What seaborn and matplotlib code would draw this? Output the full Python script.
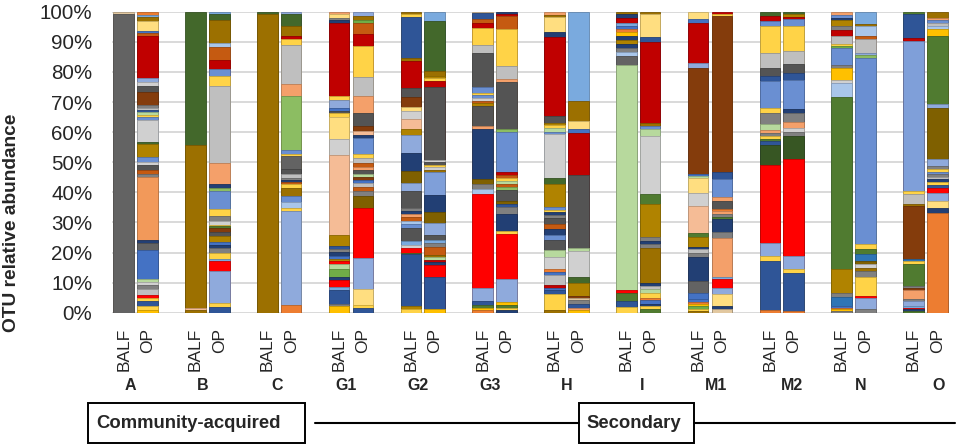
import matplotlib
matplotlib.use("Agg")
import matplotlib.pyplot as plt
import numpy as np
import pandas as pd
import seaborn as sns
from matplotlib.colors import to_rgb
from matplotlib.patches import Rectangle
from matplotlib.lines import Line2D

# ---------------- data ----------------
groups = ["A", "B", "C", "G1", "G2", "G3", "H", "I", "M1", "M2", "N", "O"]
samples = ["BALF", "OP"]
y_ticks = [0, 10, 20, 30, 40, 50, 60, 70, 80, 90, 100]
y_tick_labels = [f"{v}%" for v in y_ticks]
category_labels = ["Community-acquired", "Secondary"]

# OTU colour keys
PAL = {
    "dgray": "#636363", "char": "#545454", "mgray": "#808080", "lgray": "#bfbfbf",
    "vlgray": "#d0d0d0", "tan": "#e2c8a0", "red": "#c00000", "bred": "#ff0000",
    "salmon": "#f4a06a", "lorange": "#f2995a", "peach": "#f5bc96", "orange": "#ed7d31",
    "blue": "#4472c4", "dblue": "#2f5597", "navy": "#223f74", "lblue": "#8faadc",
    "sblue": "#6a8fd2", "pblue": "#7f9fd9", "skyblue": "#7aaade", "iceblue": "#a9c6ea",
    "mblue": "#2e75b6", "olive": "#9c7000", "gold": "#b08300", "dolive": "#7f6000",
    "dgreen": "#43682b", "green": "#507b30", "vdgreen": "#375623", "lgreen": "#8cbd62",
    "mintgreen": "#b7d99d", "gmid": "#70ad47", "yellow": "#ffd347", "amber": "#ffc000",
    "lyellow": "#ffde80", "brown": "#843c0c", "rust": "#c55a11",
}

# stacks, bottom -> top : (OTU colour key, relative abundance %)
A_BALF = [("dgray", 99.3), ("tan", 0.7)]
A_OP = [("amber", 1.0), ("yellow", 1.3), ("dblue", 1.4), ("yellow", 1.0), ("bred", 1.0),
        ("lgray", 2.0), ("mgray", 1.5), ("vlgray", 1.0), ("mintgreen", 1.0), ("blue", 9.2),
        ("dgray", 2.4), ("navy", 1.0), ("lorange", 20.7), ("mgray", 1.0), ("rust", 1.3),
        ("char", 1.5), ("vlgray", 1.0), ("sblue", 1.6), ("gold", 4.4), ("dgreen", 0.8),
        ("vlgray", 7.0), ("sblue", 1.0), ("yellow", 0.8), ("mintgreen", 0.8), ("dblue", 0.7),
        ("lgray", 0.6), ("mgray", 1.0), ("brown", 4.4), ("char", 1.9), ("vlgray", 1.4),
        ("lblue", 1.3), ("red", 13.8), ("rust", 0.8), ("blue", 0.9), ("lyellow", 3.3),
        ("olive", 1.0), ("skyblue", 0.9), ("orange", 1.0)]
B_BALF = [("olive", 0.8), ("peach", 0.9), ("olive", 53.9), ("dgreen", 44.4)]
B_OP = [("dblue", 1.9), ("yellow", 1.4), ("lblue", 10.5), ("bred", 3.3), ("skyblue", 0.6),
        ("yellow", 2.2), ("mgray", 1.5), ("navy", 1.0), ("blue", 1.0), ("gold", 2.0),
        ("char", 1.5), ("brown", 1.2), ("green", 0.6), ("yellow", 0.6), ("vlgray", 1.1),
        ("mgray", 1.7), ("yellow", 2.2), ("sblue", 6.1), ("lgreen", 1.1), ("navy", 1.1),
        ("salmon", 7.2), ("lgray", 25.5), ("yellow", 3.3), ("sblue", 2.5), ("red", 2.7),
        ("rust", 4.4), ("iceblue", 1.4), ("olive", 7.8), ("dgreen", 1.7), ("skyblue", 0.9)]
C_BALF = [("olive", 99.1), ("dgreen", 0.9)]
C_OP = [("orange", 2.4), ("lblue", 31.3), ("yellow", 1.1), ("iceblue", 2.0), ("sblue", 1.9),
        ("olive", 2.8), ("yellow", 1.1), ("rust", 0.8), ("navy", 0.7), ("mgray", 0.7),
        ("lgray", 1.4), ("char", 1.4), ("dgray", 4.4), ("yellow", 0.8), ("sblue", 1.4),
        ("lgreen", 17.7), ("salmon", 4.1), ("lgray", 13.1), ("yellow", 1.7), ("red", 1.1),
        ("olive", 3.3), ("dgreen", 3.9), ("lblue", 0.9)]
G1_BALF = [("amber", 2.2), ("mgray", 0.6), ("dblue", 4.7), ("skyblue", 1.1), ("bred", 2.2),
           ("navy", 1.1), ("gmid", 2.5), ("mintgreen", 1.7), ("bred", 1.0), ("gold", 0.9),
           ("blue", 0.9), ("navy", 1.2), ("mgray", 1.1), ("dblue", 1.0), ("gold", 3.5),
           ("peach", 26.6), ("vlgray", 5.3), ("lyellow", 7.4), ("yellow", 1.2), ("char", 0.7),
           ("blue", 1.2), ("lblue", 2.4), ("yellow", 1.4), ("red", 24.4), ("navy", 0.9),
           ("mgray", 0.8), ("lyellow", 1.2), ("salmon", 0.8)]
G1_OP = [("dblue", 1.7), ("yellow", 0.8), ("lyellow", 5.3), ("lblue", 10.3), ("bred", 16.8),
         ("dolive", 3.9), ("mgray", 1.6), ("rust", 1.4), ("lgray", 1.2), ("blue", 1.0),
         ("brown", 1.2), ("mintgreen", 0.8), ("char", 1.4), ("salmon", 0.8), ("rust", 1.6),
         ("lgray", 1.4), ("yellow", 1.4), ("sblue", 5.5), ("navy", 0.8), ("peach", 1.4),
         ("brown", 1.7), ("char", 4.4), ("salmon", 5.5), ("lgray", 6.3), ("yellow", 10.3),
         ("red", 4.1), ("rust", 3.7), ("gmid", 1.0), ("olive", 1.2), ("lblue", 1.4)]
G2_BALF = [("yellow", 1.1), ("gold", 1.1), ("dblue", 17.2), ("green", 0.5), ("bred", 1.5),
           ("vlgray", 1.2), ("skyblue", 1.2), ("char", 4.4), ("sblue", 1.2), ("iceblue", 1.0),
           ("rust", 1.2), ("salmon", 1.0), ("navy", 1.2), ("mgray", 1.0), ("char", 5.5),
           ("lblue", 2.8), ("dolive", 3.9), ("navy", 5.9), ("lblue", 6.0), ("gold", 2.0),
           ("peach", 3.5), ("vlgray", 2.5), ("lyellow", 1.3), ("brown", 3.3), ("char", 3.1),
           ("red", 8.9), ("olive", 1.1), ("dblue", 13.5), ("yellow", 1.2), ("olive", 0.6)]
G2_OP = [("amber", 1.1), ("dblue", 10.7), ("bred", 4.2), ("navy", 0.8), ("red", 0.8),
         ("mintgreen", 0.9), ("olive", 0.8), ("rust", 2.8), ("mgray", 1.3), ("skyblue", 1.0),
         ("char", 1.6), ("lblue", 3.9), ("dolive", 3.9), ("navy", 5.5), ("pblue", 7.8),
         ("olive", 0.7), ("vlgray", 0.8), ("yellow", 0.7), ("char", 1.1), ("vlgray", 0.6),
         ("char", 24.4), ("red", 2.0), ("yellow", 1.0), ("gold", 0.9), ("olive", 1.7),
         ("dgreen", 16.6), ("skyblue", 3.1)]
G3_BALF = [("orange", 0.9), ("amber", 0.8), ("green", 1.0), ("dblue", 1.2), ("lblue", 4.2),
           ("bred", 31.5), ("iceblue", 1.6), ("mgray", 1.5), ("dolive", 1.7), ("navy", 16.6),
           ("salmon", 1.1), ("char", 6.6), ("gold", 1.0), ("rust", 0.7), ("vlgray", 1.0),
           ("sblue", 0.9), ("yellow", 0.9), ("sblue", 1.9), ("char", 11.4), ("lgray", 2.5),
           ("yellow", 5.8), ("red", 1.7), ("rust", 1.1), ("dblue", 2.0), ("tan", 0.5)]
G3_OP = [("navy", 0.9), ("yellow", 0.8), ("green", 0.9), ("amber", 0.8), ("lblue", 7.8),
         ("bred", 15.0), ("yellow", 1.1), ("navy", 5.5), ("mgray", 2.2), ("dblue", 1.2),
         ("dolive", 1.0), ("char", 3.5), ("lgreen", 1.0), ("rust", 1.1), ("mintgreen", 1.0),
         ("yellow", 1.0), ("rust", 1.0), ("red", 0.8), ("sblue", 13.3), ("lgreen", 1.1),
         ("char", 15.5), ("salmon", 1.3), ("lgray", 4.2), ("yellow", 12.2), ("rust", 4.4),
         ("red", 0.6), ("navy", 0.8)]
H_BALF = [("olive", 0.8), ("yellow", 5.5), ("dblue", 1.4), ("blue", 0.6), ("red", 0.9),
          ("lgray", 3.5), ("blue", 0.9), ("orange", 0.8), ("vlgray", 4.1), ("mintgreen", 2.5),
          ("char", 3.3), ("sblue", 1.7), ("navy", 1.7), ("rust", 1.7), ("char", 2.0),
          ("mgray", 1.2), ("navy", 0.9), ("yellow", 0.8), ("sblue", 0.9), ("gold", 7.5),
          ("dgreen", 2.0), ("vlgray", 14.6), ("sblue", 0.8), ("mintgreen", 1.2), ("yellow", 1.0),
          ("gold", 0.9), ("char", 2.2), ("red", 26.2), ("navy", 1.8), ("lyellow", 4.9),
          ("olive", 0.8), ("salmon", 1.0)]
H_OP = [("amber", 0.9), ("salmon", 0.8), ("dblue", 1.1), ("mgray", 1.4), ("tan", 0.7),
        ("brown", 0.7), ("gold", 4.4), ("dgreen", 1.9), ("vlgray", 8.6), ("mintgreen", 0.9),
        ("char", 24.3), ("red", 14.2), ("blue", 1.1), ("lyellow", 2.8), ("olive", 6.6),
        ("skyblue", 29.7)]
I_BALF = [("yellow", 1.9), ("dblue", 2.0), ("green", 2.8), ("bred", 0.8), ("mintgreen", 75.1),
          ("dgray", 2.8), ("iceblue", 1.4), ("mgray", 1.4), ("navy", 1.3), ("gold", 1.3),
          ("navy", 1.3), ("amber", 1.2), ("orange", 1.0), ("blue", 1.2), ("skyblue", 1.0),
          ("red", 1.7), ("navy", 1.2), ("olive", 0.8)]
I_OP = [("green", 1.1), ("yellow", 1.0), ("navy", 0.9), ("blue", 1.2), ("orange", 0.8),
        ("yellow", 1.7), ("mintgreen", 1.2), ("lgray", 1.0), ("navy", 1.1), ("olive", 11.6),
        ("mgray", 1.1), ("navy", 1.1), ("mgray", 1.3), ("gold", 10.9), ("green", 3.5),
        ("vlgray", 19.2), ("mintgreen", 2.2), ("sblue", 1.1), ("olive", 1.1), ("red", 26.9),
        ("dblue", 1.6), ("lyellow", 7.5), ("olive", 0.9)]
M1_BALF = [("olive", 0.5), ("yellow", 0.6), ("gmid", 1.0), ("amber", 0.7), ("orange", 0.8),
           ("blue", 0.9), ("blue", 1.9), ("dgray", 4.2), ("navy", 7.8), ("mgray", 1.4),
           ("lgray", 1.4), ("navy", 0.8), ("gold", 3.1), ("green", 1.3), ("peach", 9.2),
           ("vlgray", 4.2), ("lyellow", 5.0), ("mintgreen", 0.7), ("blue", 0.6), ("brown", 35.4),
           ("lblue", 1.7), ("red", 13.3), ("blue", 1.1), ("lyellow", 2.5)]
M1_OP = [("tan", 1.1), ("navy", 1.1), ("lyellow", 3.9), ("lblue", 2.2), ("bred", 2.8),
         ("skyblue", 0.8), ("salmon", 13.1), ("mgray", 1.7), ("navy", 4.4), ("green", 0.6),
         ("mgray", 1.1), ("salmon", 0.9), ("orange", 0.8), ("char", 2.8), ("salmon", 1.1),
         ("sblue", 6.1), ("dblue", 2.2), ("brown", 52.0), ("yellow", 0.7), ("red", 0.7)]
M2_BALF = [("orange", 0.8), ("dblue", 16.4), ("yellow", 1.7), ("lblue", 4.4), ("bred", 25.8),
           ("vdgreen", 6.6), ("dblue", 1.3), ("green", 0.9), ("yellow", 0.8), ("mgray", 1.2),
           ("salmon", 1.0), ("mintgreen", 1.7), ("mgray", 3.9), ("yellow", 1.7), ("sblue", 8.9),
           ("dblue", 1.5), ("char", 2.9), ("lgray", 5.0), ("yellow", 8.9), ("sblue", 1.5),
           ("red", 1.8), ("dgreen", 1.4)]
M2_OP = [("orange", 0.6), ("dblue", 12.7), ("yellow", 1.1), ("lblue", 4.4), ("bred", 32.3),
         ("vdgreen", 7.5), ("mgray", 1.4), ("vlgray", 1.4), ("salmon", 1.7), ("mgray", 3.0),
         ("navy", 1.4), ("sblue", 9.6), ("dblue", 2.5), ("char", 2.8), ("lgray", 4.4),
         ("yellow", 8.3), ("sblue", 2.2), ("red", 0.8), ("gold", 1.0), ("dgreen", 0.7)]
N_BALF = [("mgray", 0.5), ("amber", 0.6), ("orange", 0.5), ("blue", 0.6), ("mblue", 3.0),
          ("mgray", 1.4), ("gold", 7.8), ("green", 57.3), ("iceblue", 4.8), ("vlgray", 1.1),
          ("amber", 3.9), ("mgray", 0.8), ("sblue", 5.9), ("gmid", 0.6), ("yellow", 0.5),
          ("lgray", 2.8), ("red", 1.9), ("mgray", 1.6), ("gold", 1.7), ("navy", 0.9),
          ("sblue", 1.0), ("salmon", 1.0)]
N_OP = [("mgray", 1.1), ("lblue", 3.9), ("bred", 0.6), ("yellow", 6.3), ("mgray", 2.0),
        ("olive", 1.1), ("vlgray", 1.1), ("dolive", 1.1), ("mblue", 2.2), ("green", 1.7),
        ("yellow", 1.9), ("sblue", 61.8), ("lgreen", 0.8), ("lblue", 0.9), ("lgray", 4.4),
        ("rust", 1.1), ("iceblue", 3.3), ("olive", 0.8), ("skyblue", 4.0)]
O_BALF = [("green", 0.5), ("navy", 0.6), ("bred", 0.5), ("skyblue", 0.6), ("lblue", 1.7),
          ("mgray", 0.8), ("salmon", 2.8), ("brown", 0.7), ("mgray", 0.7), ("green", 7.4),
          ("yellow", 0.8), ("mblue", 0.6), ("brown", 17.7), ("olive", 0.6), ("lgray", 3.3),
          ("yellow", 1.1), ("pblue", 49.8), ("red", 1.1), ("dblue", 7.8), ("green", 0.9)]
O_OP = [("orange", 33.2), ("navy", 1.7), ("lyellow", 2.2), ("lblue", 2.8), ("bred", 1.7),
        ("dblue", 0.9), ("yellow", 0.9), ("navy", 0.9), ("lgray", 0.9), ("mgray", 0.8),
        ("sblue", 0.9), ("yellow", 0.9), ("mgray", 1.0), ("lblue", 2.2), ("dolive", 17.2),
        ("lblue", 1.1), ("green", 22.7), ("amber", 2.2), ("iceblue", 1.0), ("lgray", 1.0),
        ("sblue", 1.0), ("salmon", 0.9), ("olive", 2.0)]

STACKS = {
    "A": (A_BALF, A_OP), "B": (B_BALF, B_OP), "C": (C_BALF, C_OP),
    "G1": (G1_BALF, G1_OP), "G2": (G2_BALF, G2_OP), "G3": (G3_BALF, G3_OP),
    "H": (H_BALF, H_OP), "I": (I_BALF, I_OP), "M1": (M1_BALF, M1_OP),
    "M2": (M2_BALF, M2_OP), "N": (N_BALF, N_OP), "O": (O_BALF, O_OP),
}

# ---------------- build long table ----------------
slots, tick_text = [], []
rows = []
for gi, g in enumerate(groups):
    for si, s in enumerate(samples):
        slot = f"{g}_{s}"
        slots.append(slot)
        tick_text.append(s)
        stack = STACKS[g][si]
        vals = np.array([v for _, v in stack], dtype=float)
        vals = vals / vals.sum() * 100.0
        tops = np.cumsum(vals)
        for lvl, ((key, _), top) in enumerate(zip(stack, tops)):
            rows.append(dict(slot=slot, level=lvl, top=top, color=PAL[key]))
    if gi < len(groups) - 1:
        slots.append(f"{g}_gap")
        tick_text.append("")
df = pd.DataFrame(rows)

# ---------------- figure ----------------
sns.set_style("white")
plt.rcParams["font.family"] = ["Liberation Sans", "DejaVu Sans"]

W, H = 957, 446
fig = plt.figure(figsize=(W / 100, H / 100), dpi=100)
ax_l, ax_r, ax_t, ax_b = 111.7, 949.3, 11.7, 312.7
ax = fig.add_axes([ax_l / W, 1 - ax_b / H, (ax_r - ax_l) / W, (ax_b - ax_t) / H])

for lvl in sorted(df["level"].unique(), reverse=True):
    sub = df[df["level"] == lvl]
    sns.barplot(data=sub, x="slot", y="top", hue="slot", order=slots,
                palette=dict(zip(sub["slot"], sub["color"])), dodge=False,
                width=0.86, errorbar=None, saturation=1, legend=False, ax=ax)

for p in ax.patches:
    fc = np.array(to_rgb(p.get_facecolor()[:3]))
    p.set_edgecolor(tuple(fc * 0.78))
    p.set_linewidth(0.6)

ax.set_xlim(-0.5, len(slots) - 0.5)
ax.set_ylim(0, 100)
ax.set_xlabel("")
ax.set_ylabel("")
ax.set_yticks(y_ticks)
ax.set_yticklabels(y_tick_labels, fontsize=14.8)
ax.set_xticks(range(len(slots)))
ax.set_xticklabels(tick_text, rotation=90, fontsize=12.5, va="top", ha="center")
ax.tick_params(axis="x", length=0, pad=11)
ax.tick_params(axis="y", length=0, pad=14)
ax.set_axisbelow(True)
ax.yaxis.grid(True, color="#d9d9d9", linewidth=1.4)
ax.xaxis.grid(False)
for sp in ax.spines.values():
    sp.set_visible(False)

# y axis title
fig.text(11.5 / W, 1 - 223 / H, "OTU relative abundance", rotation=90,
         ha="center", va="center", fontsize=13.8, fontweight="bold")

# group labels
group_x = [130, 203, 277.5, 346, 418, 490, 567, 642, 716, 791.5, 861, 939]
for g, gx in zip(groups, group_x):
    fig.text(gx / W, 1 - 386 / H, g, ha="center", va="center",
             fontsize=11.5, fontweight="bold")

# category boxes and line
line_y = 1 - 423 / H
fig.add_artist(Line2D([315 / W, 579 / W], [line_y, line_y], color="black", lw=1.5))
fig.add_artist(Line2D([694 / W, 955 / W], [line_y, line_y], color="black", lw=1.5))
for (x0, x1, tx), lab in zip([(88.3, 305, 96.7), (579, 694, 586.7)], category_labels):
    fig.add_artist(Rectangle((x0 / W, 1 - 443 / H), (x1 - x0) / W, 40 / H,
                             transform=fig.transFigure, fc="white", ec="black", lw=1.4))
    fig.text(tx / W, line_y, lab, ha="left", va="center", fontsize=13.3,
             fontweight="bold")

fig.savefig("out.png", dpi=100)
